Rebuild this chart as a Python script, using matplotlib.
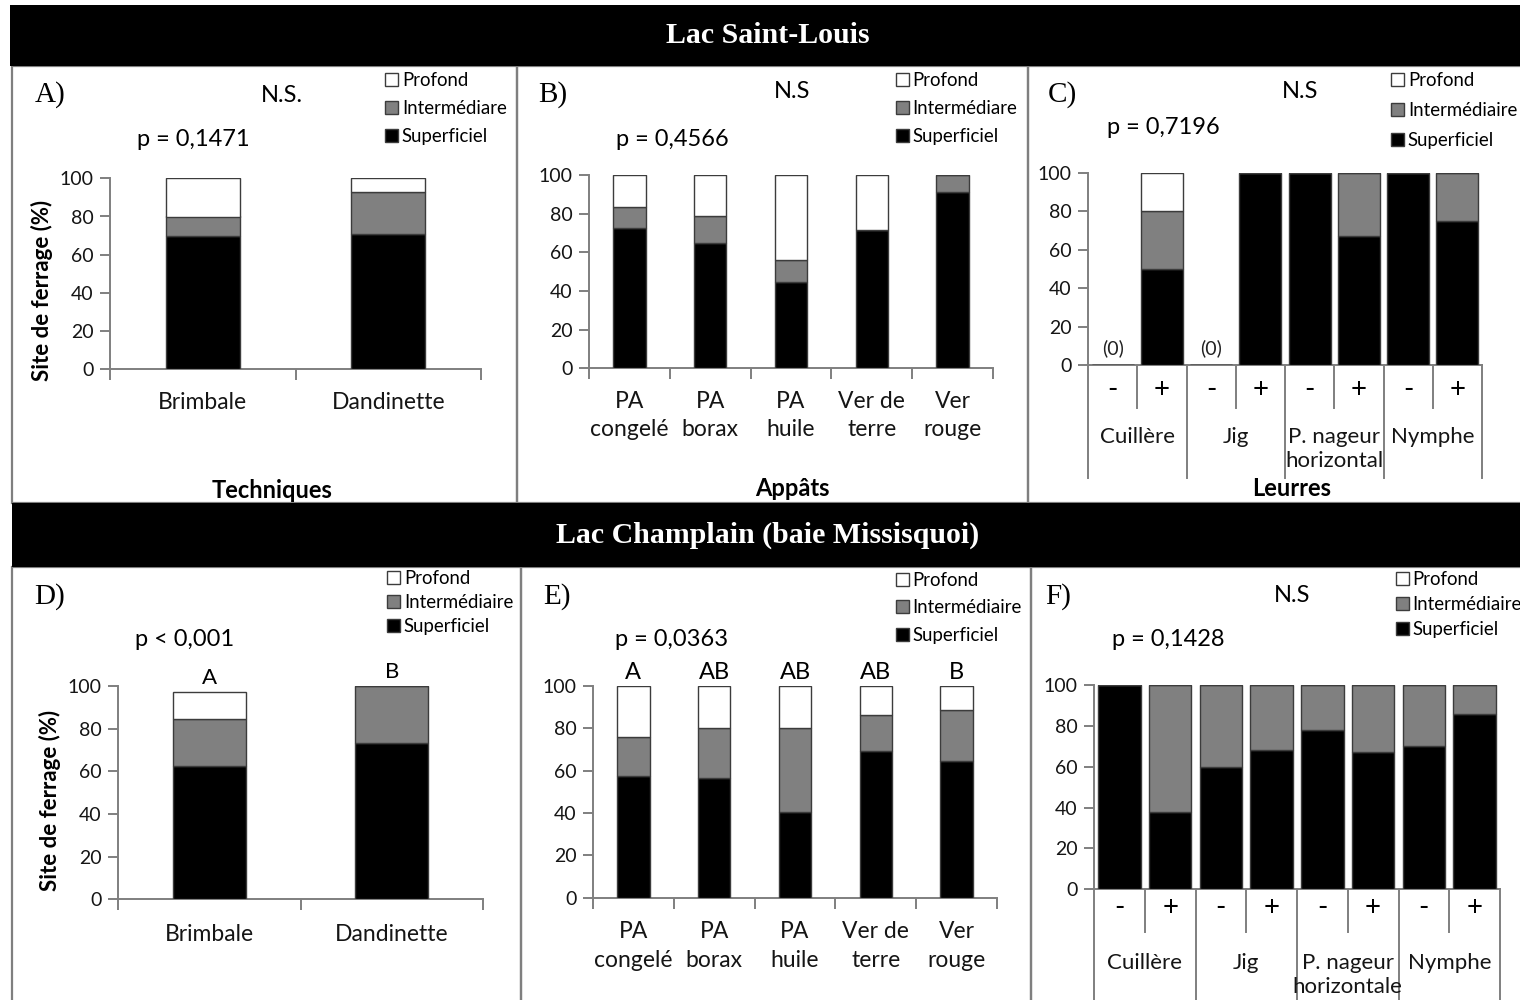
import numpy as np
import matplotlib.pyplot as plt
from matplotlib.patches import Rectangle, Patch

W, H = 1520, 1000
SANS = ['Lato', 'DejaVu Sans']
SERIF = ['Liberation Serif', 'DejaVu Serif']
plt.rcParams['font.family'] = SANS

LINE = '#7f7f7f'
EDGE = '#3c3c3c'
C_SUP, C_INT, C_PROF = 'black', '#808080', 'white'

# ---- data (pourcentages) ----
techniques = ['Brimbale', 'Dandinette']
appats = ['PA\ncongelé', 'PA\nborax', 'PA\nhuile', 'Ver de\nterre', 'Ver\nrouge']
leurres_c = ['Cuillère', 'Jig', 'P. nageur\nhorizontal', 'Nymphe']
leurres_f = ['Cuillère', 'Jig', 'P. nageur\nhorizontale', 'Nymphe']
signes = ['-', '+']

a_sup = [70, 71]
a_int = [10, 22]
a_prof = [20, 7]

b_sup = [72.4, 64.7, 44.8, 71.6, 91.2]
b_int = [11.2, 14.1, 11.1, 0, 8.8]
b_prof = [16.4, 21.2, 44.1, 28.4, 0]

c_sup = [0, 50, 0, 100, 100, 67, 100, 75]
c_int = [0, 30, 0, 0, 0, 33, 0, 25]
c_prof = [0, 20, 0, 0, 0, 0, 0, 0]

d_sup = [62.7, 73.1]
d_int = [21.7, 26.9]
d_prof = [12.8, 0]
d_lettres = ['A', 'B']

e_sup = [57.6, 56.7, 40.3, 69.4, 64.6]
e_int = [18.1, 23.6, 40.0, 16.7, 24.2]
e_prof = [24.3, 19.7, 19.7, 13.9, 11.2]
e_lettres = ['A', 'AB', 'AB', 'AB', 'B']

f_sup = [100, 37.7, 60, 68.4, 78.1, 67, 70.3, 85.8]
f_int = [0, 62.3, 40, 31.6, 21.9, 33, 29.7, 14.2]
f_prof = [0, 0, 0, 0, 0, 0, 0, 0]

fig = plt.figure(figsize=(15.2, 10), dpi=100)

TICK_FS = 14
LAB_FS = 16.5
P_FS = 17
LEG_FS = 13.4


def fx(x):
    return x / W


def fy(y):
    return 1 - y / H


def ftext(x, y, s, **kw):
    kw.setdefault('ha', 'center')
    kw.setdefault('va', 'center')
    fig.text(fx(x), fy(y), s, **kw)


def frame(x0, y0, x1, y1):
    fig.patches.append(Rectangle((fx(x0), fy(y1)), (x1 - x0) / W, (y1 - y0) / H,
                                 transform=fig.transFigure, fill=False,
                                 edgecolor=LINE, lw=1.6, zorder=0))


def banner(y0, y1, x0, title):
    fig.patches.append(Rectangle((fx(x0), fy(y1)), (W - x0) / W, (y1 - y0) / H,
                                 transform=fig.transFigure, facecolor='black',
                                 edgecolor='none', zorder=1))
    ftext(768, (y0 + y1) / 2, title, color='white', fontsize=21.5,
          fontweight='bold', family=SERIF, zorder=2)


def make_axes(x0, x1, y0, y100):
    return fig.add_axes([fx(x0), fy(y0), (x1 - x0) / W, (y0 - y100) / H])


def stacked(ax, sup, inter, prof, width):
    x = np.arange(len(sup))
    sup, inter, prof = np.asarray(sup), np.asarray(inter), np.asarray(prof)
    kw = dict(width=width, edgecolor=EDGE, linewidth=1.0, zorder=3)
    ax.bar(x, sup, color=C_SUP, **kw)
    ax.bar(x, inter, bottom=sup, color=C_INT, **kw)
    ax.bar(x, prof, bottom=sup + inter, color=C_PROF, **kw)
    return sup + inter + prof


def style(ax, n):
    ax.set_xlim(-0.5, n - 0.5)
    ax.set_ylim(0, 100)
    ax.patch.set_alpha(0)
    for s in ('top', 'right'):
        ax.spines[s].set_visible(False)
    for s in ('left', 'bottom'):
        ax.spines[s].set_color(LINE)
        ax.spines[s].set_linewidth(1.4)
    ax.set_yticks(range(0, 101, 20))
    ax.tick_params(axis='y', direction='out', length=7, width=1.4, color=LINE,
                   labelsize=TICK_FS, pad=5, labelcolor='#151515')


def simple_xaxis(ax, labels, pad):
    n = len(labels)
    ax.set_xticks(np.arange(n + 1) - 0.5)
    ax.set_xticklabels([])
    ax.set_xticks(np.arange(n), minor=True)
    ax.set_xticklabels(labels, minor=True, fontsize=LAB_FS, linespacing=1.45,
                       color='#151515')
    ax.tick_params(axis='x', which='major', direction='out', length=8,
                   width=1.4, color=LINE)
    ax.tick_params(axis='x', which='minor', length=0, pad=pad)


def grouped_xaxis(ax, groups, short, long, y_sign, y_group):
    n = len(groups) * len(signes)
    ax.set_xticks([])
    tr = ax.get_xaxis_transform()
    for i in range(n + 1):
        depth = long if i % 2 == 0 else short
        ax.plot([i - 0.5, i - 0.5], [0, -depth], transform=tr, clip_on=False,
                color=LINE, lw=1.4)
    for i in range(n):
        ax.text(i, y_sign, signes[i % 2], transform=tr, ha='center', va='center',
                fontsize=20, color='black')
    for g, name in enumerate(groups):
        ax.text(2 * g + 0.5, y_group, name, transform=tr, ha='center', va='top',
                fontsize=LAB_FS - 0.5, linespacing=1.25, color='#151515')


def legend(x, y, spacing, inter_label):
    handles = [Patch(facecolor=C_PROF, edgecolor=EDGE, lw=1),
               Patch(facecolor=C_INT, edgecolor=EDGE, lw=1),
               Patch(facecolor=C_SUP, edgecolor=EDGE, lw=1)]
    fs = LEG_FS
    fig.legend(handles, ['Profond', inter_label, 'Superficiel'], loc='upper left',
               bbox_to_anchor=(fx(x), fy(y)), frameon=False, fontsize=fs,
               handlelength=0.7, handleheight=0.7, handletextpad=0.2,
               labelspacing=(spacing - fs * 1.39) / (fs * 1.39),
               borderpad=0, borderaxespad=0)


# ---- banners & frames ----
banner(5, 66, 10, 'Lac Saint-Louis')
banner(503, 567, 12, 'Lac Champlain (baie Missisquoi)')
frame(12, 66, 517, 503)
frame(517, 66, 1028, 503)
frame(1028, 66, 1530, 503)
frame(12, 567, 521, 1010)
frame(521, 567, 1031, 1010)
frame(1031, 567, 1530, 1010)

# ---- A ----
ax = make_axes(110, 481, 369.3, 178.3)
stacked(ax, a_sup, a_int, a_prof, 0.4)
style(ax, len(techniques))
simple_xaxis(ax, techniques, 16)
ftext(50, 95, 'A)', fontsize=21, family=SERIF)
ftext(282, 95, 'N.S.', fontsize=P_FS)
ftext(193, 139, 'p = 0,1471', fontsize=P_FS)
ftext(272, 490, 'Techniques', fontsize=17, fontweight='bold')
ftext(42, 290, 'Site de ferrage (%)', fontsize=16, fontweight='bold', rotation=90)
legend(385, 72, 29.5, 'Intermédiare')

# ---- B ----
ax = make_axes(589, 993, 368.3, 175)
stacked(ax, b_sup, b_int, b_prof, 0.4)
style(ax, len(appats))
simple_xaxis(ax, appats, 16)
ftext(553, 95, 'B)', fontsize=21, family=SERIF)
ftext(792, 92, 'N.S', fontsize=P_FS)
ftext(672, 139, 'p = 0,4566', fontsize=P_FS)
ftext(792, 488, 'Appâts', fontsize=17, fontweight='bold')
legend(896, 72, 29.5, 'Intermédiare')

# ---- C ----
ax = make_axes(1088, 1482, 365, 172.7)
tot = stacked(ax, c_sup, c_int, c_prof, 0.85)
style(ax, len(c_sup))
grouped_xaxis(ax, leurres_c, 0.224, 0.588, -0.13, -0.325)
for i, t in enumerate(tot):
    if t == 0:
        ax.text(i, 4, '(0)', ha='center', va='bottom', fontsize=14, color='#222222')
ftext(1062, 95, 'C)', fontsize=21, family=SERIF)
ftext(1300, 92, 'N.S', fontsize=P_FS)
ftext(1163, 127, 'p = 0,7196', fontsize=P_FS)
ftext(1292, 488, 'Leurres', fontsize=17, fontweight='bold')
legend(1391, 72, 31.5, 'Intermédiaire')

# ---- D ----
ax = make_axes(118, 483, 899.3, 686)
tot = stacked(ax, d_sup, d_int, d_prof, 0.4)
style(ax, len(techniques))
simple_xaxis(ax, techniques, 18)
for i, t in enumerate(tot):
    ax.text(i, t + 2, d_lettres[i], ha='center', va='bottom', fontsize=16)
ftext(50, 597, 'D)', fontsize=21, family=SERIF)
ftext(185, 640, 'p < 0,001', fontsize=P_FS)
ftext(50, 800, 'Site de ferrage (%)', fontsize=16, fontweight='bold', rotation=90)
legend(387, 570, 25.5, 'Intermédiaire')

# ---- E ----
ax = make_axes(593, 997, 897.7, 686)
tot = stacked(ax, e_sup, e_int, e_prof, 0.4)
style(ax, len(appats))
simple_xaxis(ax, appats, 17)
for i, t in enumerate(tot):
    ax.text(i, t + 1.5, e_lettres[i], ha='center', va='bottom', fontsize=17)
ftext(557, 597, 'E)', fontsize=21, family=SERIF)
ftext(672, 640, 'p = 0,0363', fontsize=P_FS)
legend(896, 572, 29, 'Intermédiaire')

# ---- F ----
ax = make_axes(1094, 1500, 889.3, 685)
stacked(ax, f_sup, f_int, f_prof, 0.84)
style(ax, len(f_sup))
grouped_xaxis(ax, leurres_f, 0.21, 0.6, -0.093, -0.31)
ftext(1058, 597, 'F)', fontsize=21, family=SERIF)
ftext(1292, 596, 'N.S', fontsize=P_FS)
ftext(1168, 640, 'p = 0,1428', fontsize=P_FS)
legend(1396, 571, 26.5, 'Intermédiaire')

fig.savefig('out.png', dpi=100)
